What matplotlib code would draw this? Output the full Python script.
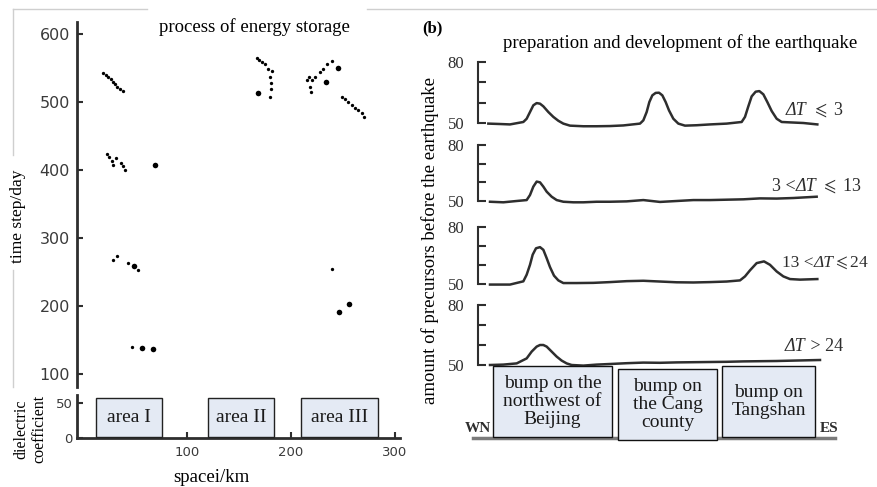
"""
Energy storage anomalies (a) and precursor profiles before the earthquake (b)
"""
import matplotlib
matplotlib.use("Agg")
import matplotlib.pyplot as plt
from matplotlib.lines import Line2D
from matplotlib.patches import Rectangle

plt.rcParams['font.family'] = ['Liberation Serif', 'DejaVu Serif']
plt.rcParams['mathtext.fontset'] = 'stix'

W, H = 877, 487

# ---- panel (a): anomaly points, space (km) vs time step (day)
small_x = [19.2, 22.1, 24.0, 26.9, 28.8, 30.8, 32.7, 35.6, 38.5,
           23.1, 25.0, 27.9, 28.8, 31.7, 36.5, 38.5, 40.4,
           28.8, 32.7, 43.3, 52.9, 47.1,
           167.3, 169.2, 172.1, 175.0, 177.9, 181.7, 179.8, 180.8, 180.8, 179.8,
           215.1, 217.6, 219.9, 223.1, 218.3, 219.2, 227.9, 230.5, 234.9, 239.1,
           248.8, 251.9, 255.1, 258.4, 261.5, 264.7, 268.0, 270.2, 239.4]
small_y = [542.6, 539.7, 536.8, 533.8, 529.4, 526.5, 522.1, 519.1, 516.2,
           423.5, 419.1, 413.2, 407.4, 417.6, 410.3, 405.9, 400.0,
           267.6, 273.5, 263.2, 252.9, 139.7,
           564.7, 561.8, 558.8, 555.9, 548.5, 545.6, 536.8, 527.9, 519.1, 507.4,
           532.4, 537.2, 532.4, 537.2, 522.5, 515.1, 543.7, 548.5, 555.4, 560.3,
           507.8, 504.4, 500.4, 495.6, 491.6, 488.2, 483.4, 478.4, 254.4]
big_x = [49.0, 56.7, 67.3, 69.2, 168.3, 245.5, 233.7, 255.8, 246.2]
big_y = [258.8, 138.2, 136.8, 407.4, 513.2, 550.4, 529.9, 203.0, 191.2]

area_labels = ['area I', 'area II', 'area III']

# ---- panel (b): amount of precursors along the WN-ES profile
prof1_x = [23.5, 27, 30, 34, 35, 36, 37, 38, 39, 40, 41.5, 43, 44.5, 46, 48, 52, 56, 60, 64, 69,
           70, 71, 71.8, 72.7, 73.7, 74.7, 75.7, 76.7, 77.7, 79, 80.5, 82.5, 86, 90, 95, 99.5,
           100.5, 101.5, 102.5, 103.7, 104.8, 106, 107.2, 108.5, 110, 111.5, 114, 118, 122.2]
prof1_y = [49.7, 49.5, 49.3, 50.5, 52.1, 55.4, 58.7, 59.8, 59.5, 58.2, 55.4, 53.0, 51.1, 49.7,
           48.7, 48.4, 48.4, 48.5, 48.8, 49.7, 51.3, 55.4, 60.3, 63.6, 64.8, 64.9, 63.6, 60.3,
           56.2, 52.1, 49.7, 48.7, 48.9, 49.3, 49.7, 50.5, 53.0, 58.2, 63.1, 65.4, 65.7, 64.1,
           60.3, 55.9, 52.1, 50.5, 50.3, 50.0, 49.3]
prof2_x = [24, 28, 32, 35, 36, 37, 38, 39, 40, 41, 42.5, 44, 46, 49, 52, 56, 60, 65, 70, 75,
           80, 85, 90, 95, 100, 105, 110, 115, 122]
prof2_y = [49.6, 49.3, 50.0, 50.5, 53.2, 57.7, 60.4, 60.0, 57.7, 55.0, 52.3, 50.5, 49.6, 49.3,
           49.3, 49.6, 49.6, 49.8, 50.5, 49.5, 50.0, 50.5, 50.5, 50.7, 50.9, 51.4, 51.3, 51.6, 52.3]
prof3_x = [24, 30, 34, 35, 36, 36.8, 37.8, 39, 40, 41, 42, 43.2, 44.5, 46, 50, 55, 60, 65, 70,
           75, 80, 85, 90, 95, 99, 100.5, 102, 104, 106.2, 108, 110, 112, 114, 117, 122.2]
prof3_y = [49.7, 49.7, 51.4, 54.9, 60.1, 65.4, 68.8, 69.4, 68.0, 63.6, 58.9, 54.4, 51.9, 50.5,
           50.5, 50.6, 51.0, 51.5, 51.7, 51.3, 50.9, 50.8, 51.0, 51.3, 51.9, 54.0, 57.2, 61.0,
           61.9, 60.1, 56.6, 54.0, 52.6, 52.3, 52.6]
prof4_x = [24, 28, 32, 35, 36.5, 38, 39, 40, 41, 42.5, 44, 45.5, 47, 48.5, 52, 56, 60, 65, 70,
           75, 80, 85, 90, 95, 100, 105, 110, 115, 123]
prof4_y = [50.0, 50.2, 50.8, 53.3, 56.7, 59.2, 60.0, 60.0, 59.2, 56.7, 54.2, 52.2, 50.8, 50.0,
           49.7, 50.2, 50.5, 50.9, 51.2, 51.1, 51.3, 51.4, 51.5, 51.6, 51.8, 51.9, 52.0, 52.2, 52.5]

# (text, italic?) pieces of each delta-T label
dt_labels = [[('ΔT', True), (r' $\leqslant$ 3', False)],
             [('3 <', False), ('ΔT', True), (r' $\leqslant$ 13', False)],
             [('13 <', False), ('ΔT', True), (r'$\leqslant$24', False)],
             [('ΔT', True), (' > 24', False)]]
dt_sizes = [13, 13, 12.5, 13]
bump_labels = ['bump on the\nnorthwest of\nBeijing', 'bump on\nthe Cang\ncounty',
               'bump on\nTangshan']

INK = '#2e2e2e'


def rect(x0, y0, x1, y1):
	"""pixel box (top-left origin) -> figure fraction rect"""
	return [x0 / W, 1 - y1 / H, (x1 - x0) / W, (y1 - y0) / H]


def fx(x):
	return x / W


def fy(y):
	return 1 - y / H


fig = plt.figure(figsize=(W / 100, H / 100), dpi=100)
renderer = fig.canvas.get_renderer()


def rich_text(x, y_base, pieces, size):
	# lay pieces side by side on one baseline, italic ones in italic
	cur = x
	for txt, ital in pieces:
		t = fig.text(fx(cur), fy(y_base), txt, ha='left', va='baseline', fontsize=size,
			color=INK, fontstyle='italic' if ital else 'normal')
		cur += t.get_window_extent(renderer).width


# faint frame remnants
for (x0, y0, x1, y1) in [(13, 9, 147, 9), (367, 9, 877, 9), (13, 9, 13, 155), (13, 270, 13, 387)]:
	fig.add_artist(Line2D([fx(x0), fx(x1)], [fy(y0), fy(y1)], color='#cfcfcf', lw=1))

# ---------------- panel (a) upper: scatter
xlim_a = (-5.8, 304.8)
ax = fig.add_axes(rect(77, 22, 400, 387))
ax.plot(small_x, small_y, 'o', ms=2.4, color='black', mec='none')
ax.plot(big_x, big_y, 'o', ms=4.0, color='black', mec='none')
ax.set_xlim(*xlim_a)
ax.set_ylim(80.9, 617.6)
for s in ['top', 'right', 'bottom']:
	ax.spines[s].set_visible(False)
ax.spines['left'].set_linewidth(2)
ax.spines['left'].set_color(INK)
ax.set_xticks([])
ax.set_yticks([100, 200, 300, 400, 500, 600])
ax.tick_params(axis='y', direction='in', length=4, width=1.5, color=INK, pad=5,
	labelsize=11.5, labelcolor='#3a3a3a')
for lab in ax.get_yticklabels():
	lab.set_family('DejaVu Sans')

# ---------------- panel (a) lower: dielectric coefficient strip
axd = fig.add_axes(rect(77, 395, 400, 438))
axd.set_xlim(*xlim_a)
axd.set_ylim(0, 61.4)
for s in ['top', 'right']:
	axd.spines[s].set_visible(False)
for s in ['left', 'bottom']:
	axd.spines[s].set_linewidth(2)
	axd.spines[s].set_color(INK)
axd.set_xticks([100, 200, 300])
axd.set_yticks([0, 50])
axd.tick_params(direction='in', length=4, width=1.5, color=INK, labelsize=9.5,
	labelcolor='#3a3a3a')
axd.tick_params(axis='y', pad=3)
axd.tick_params(axis='x', pad=6)
for lab in axd.get_xticklabels() + axd.get_yticklabels():
	lab.set_family('DejaVu Sans')

box_a = [(96, 398, 162, 437), (208, 398, 274, 437), (301, 398, 378, 437)]
for (x0, y0, x1, y1), txt in zip(box_a, area_labels):
	fig.add_artist(Rectangle((fx(x0), fy(y1)), fx(x1 - x0), (y1 - y0) / H,
		facecolor='#e4eaf4', edgecolor='#222222', lw=1, zorder=5))
	fig.text(fx((x0 + x1) / 2), fy((y0 + y1) / 2), txt, ha='center', va='center',
		fontsize=14, color='#1a1a1a', zorder=6)

fig.text(fx(254), fy(27), 'process of energy storage', ha='center', va='center', fontsize=13.5)
fig.text(fx(18), fy(216), 'time step/day', ha='center', va='center', rotation=90, fontsize=12.5)
fig.text(fx(30), fy(429), 'dielectric\ncoefficient', ha='center', va='center', rotation=90,
	fontsize=11.5, linespacing=1.15)
fig.text(fx(211), fy(478), 'spacei/km', ha='center', va='center', fontsize=13.5)

# ---------------- panel (b): four precursor profiles
profiles = [(prof1_x, prof1_y), (prof2_x, prof2_y), (prof3_x, prof3_y), (prof4_x, prof4_y)]
row_top = [62, 145, 227, 305]     # pixel row of the 80 tick
row_base = [123, 201, 284, 365]   # pixel row of the 50 tick
label_pos = [(786, 115), (772, 191), (782, 267), (785, 351)]

for (px_, py_), top, base, lab, size, (lx, ly) in zip(profiles, row_top, row_base, dt_labels,
		dt_sizes, label_pos):
	axp = fig.add_axes(rect(478, top, 877, base))
	axp.patch.set_alpha(0)
	axp.plot(px_, py_, color=INK, lw=1.8, clip_on=False, solid_joinstyle='round')
	axp.set_xlim(20.4, 140.1)
	axp.set_ylim(50, 80)
	for s in ['top', 'right', 'bottom']:
		axp.spines[s].set_visible(False)
	axp.spines['left'].set_linewidth(1.5)
	axp.spines['left'].set_color(INK)
	axp.set_xticks([])
	axp.set_yticks([50, 60, 70, 80])
	axp.set_yticklabels(['50', '', '', '80'])
	axp.tick_params(axis='y', direction='in', length=6, width=1.5, color=INK, pad=10,
		labelsize=12, labelcolor=INK)
	rich_text(lx, ly, lab, size)

fig.text(fx(432), fy(28), '(b)', ha='center', va='center', fontsize=12, fontweight='bold')
fig.text(fx(680), fy(43), 'preparation and development of the earthquake', ha='center',
	va='center', fontsize=13.5)
fig.text(fx(430), fy(240), 'amount of precursors before the earthquake', ha='center',
	va='center', rotation=90, fontsize=13.5)

# WN - ES profile line
fig.add_artist(Line2D([fx(473), fx(835)], [fy(438), fy(438)], color='#7a7a7a', lw=2.5))
fig.text(fx(478), fy(429), 'WN', ha='center', va='center', fontsize=11, fontweight='bold',
	color=INK)
fig.text(fx(829), fy(429), 'ES', ha='center', va='center', fontsize=11, fontweight='bold',
	color=INK)

box_b = [(493, 366, 612, 437), (618, 369, 717, 440), (722, 366, 815, 437)]
for (x0, y0, x1, y1), txt in zip(box_b, bump_labels):
	fig.add_artist(Rectangle((fx(x0), fy(y1)), fx(x1 - x0), (y1 - y0) / H,
		facecolor='#e4eaf4', edgecolor='#111111', lw=1, zorder=5))
	fig.text(fx((x0 + x1) / 2), fy((y0 + y1) / 2), txt, ha='center', va='center',
		fontsize=14, color='#1a1a1a', linespacing=1.1, zorder=6)

fig.savefig('out.png', dpi=100)
